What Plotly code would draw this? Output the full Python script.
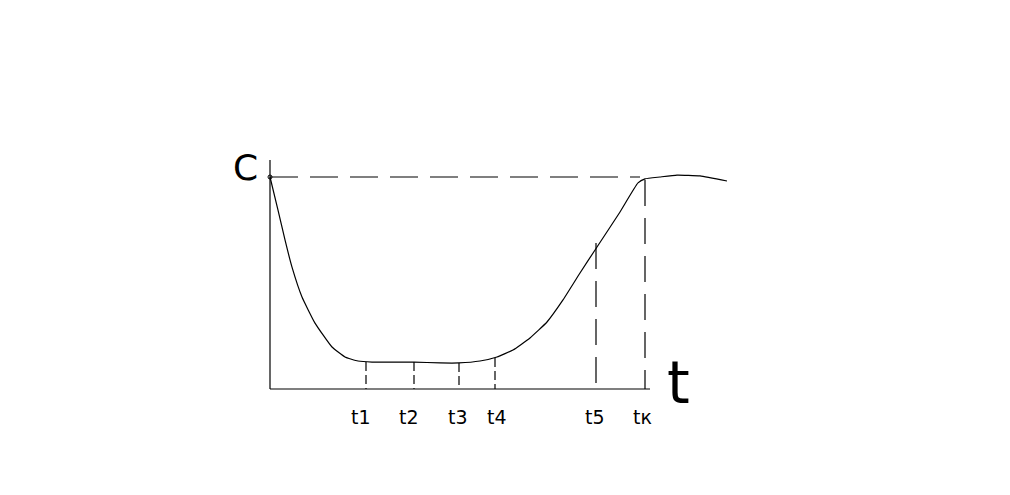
import plotly.graph_objects as go

# Curve C(t) (t in arbitrary units, C relative to initial level = 1)
curve_t = [0.00, 0.08, 0.15, 0.22, 0.32, 0.45, 0.62, 0.75, 0.88, 1.02, 1.44, 1.70, 1.89,
           2.10, 2.27, 2.43, 2.60, 2.77, 2.93, 3.10, 3.27, 3.50, 3.68, 3.75, 3.90, 4.07,
           4.30, 4.57]
curve_c = [1.000, 0.844, 0.703, 0.575, 0.434, 0.311, 0.198, 0.151, 0.132, 0.127, 0.127,
           0.123, 0.123, 0.132, 0.151, 0.184, 0.241, 0.316, 0.420, 0.547, 0.670, 0.835,
           0.972, 0.991, 1.000, 1.009, 1.005, 0.981]

# Marked time instants and the curve level at each
tick_t = [0.96, 1.44, 1.89, 2.25, 3.26, 3.75]
tick_c = [0.127, 0.127, 0.123, 0.146, 0.689, 0.986]
tick_labels = ["t1", "t2", "t3", "t4", "t5", "tк"]
label_shift = [-5, -5, -1, 2, -1, -3]

c_level = 1.0
t_axis_end = 3.80
c_axis_top = 1.08

font = "DejaVu Sans"
lw = 1.2
fig = go.Figure()

# axes
fig.add_trace(go.Scatter(x=[0, 0], y=[c_axis_top, 0], mode="lines",
                         line=dict(color="black", width=lw), hoverinfo="skip"))
fig.add_trace(go.Scatter(x=[0, t_axis_end], y=[0, 0], mode="lines",
                         line=dict(color="black", width=lw), hoverinfo="skip"))

# horizontal dashed level line
fig.add_trace(go.Scatter(x=[0, 3.70], y=[c_level, c_level], mode="lines",
                         line=dict(color="black", width=lw, dash="28px,12px"),
                         hoverinfo="skip"))

# vertical dashed lines
for i, (tt, cc) in enumerate(zip(tick_t, tick_c)):
    dash = "26px,12px" if i >= 4 else "9px,4px"
    fig.add_trace(go.Scatter(x=[tt, tt], y=[cc, 0], mode="lines",
                             line=dict(color="black", width=lw, dash=dash),
                             hoverinfo="skip"))

# curve
fig.add_trace(go.Scatter(x=curve_t, y=curve_c, mode="lines",
                         line=dict(color="black", width=lw, shape="spline", smoothing=0.4),
                         hoverinfo="skip"))
fig.add_trace(go.Scatter(x=[curve_t[0]], y=[curve_c[0]], mode="markers",
                         marker=dict(symbol="circle-open", size=4, color="black",
                                     line=dict(width=1)),
                         hoverinfo="skip"))

ann = []
for tt, lab, sh in zip(tick_t, tick_labels, label_shift):
    ann.append(dict(x=tt, y=0, xref="x", yref="y", text=lab, showarrow=False,
                    xshift=sh, yshift=-28, font=dict(family=font, size=19, color="black")))
ann.append(dict(x=-0.25, y=1.047, xref="x", yref="y", text="C", showarrow=False,
                font=dict(family=font, size=36, color="black")))
ann.append(dict(x=4.08, y=0.028, xref="x", yref="y", text="t", showarrow=False,
                font=dict(family=font, size=58, color="black")))

fig.update_layout(
    width=1010, height=495,
    margin=dict(l=0, r=0, t=0, b=0),
    paper_bgcolor="white", plot_bgcolor="white",
    showlegend=False,
    annotations=ann,
    xaxis=dict(range=[-2.62, 7.48], visible=False, fixedrange=True),
    yaxis=dict(range=[-(495 - 381) / 212, 381 / 212], visible=False, fixedrange=True),
)

fig.write_html("out.html")
